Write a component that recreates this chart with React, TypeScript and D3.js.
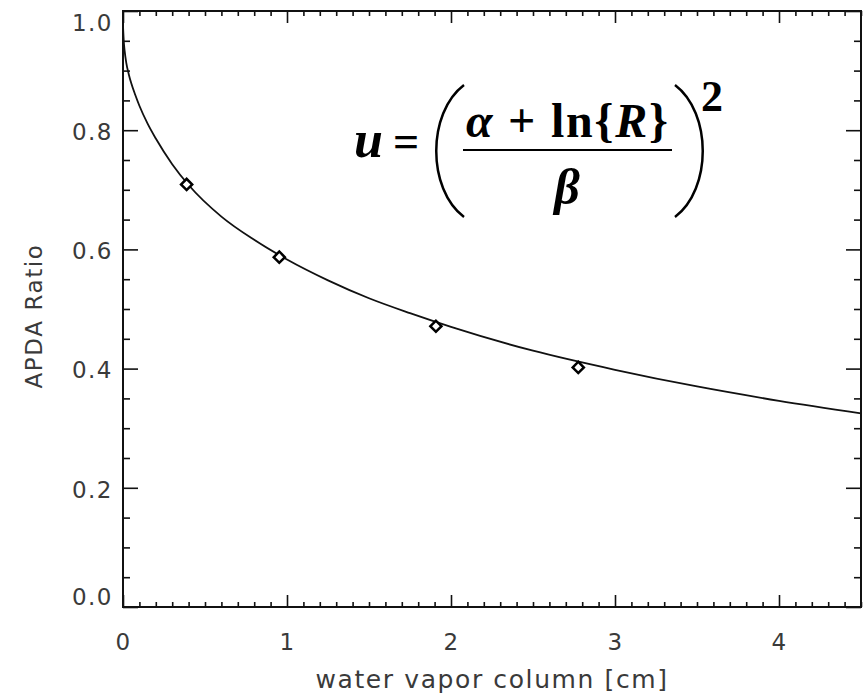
import React from "react";
import { scaleLinear, axisBottom, axisLeft, axisTop, axisRight, select, line, curveMonotoneX, range, symbol, symbolSquare } from "d3";

// measured points (water vapor column vs APDA ratio)
const pointX = [0.388, 0.953, 1.908, 2.776];
const pointY = [0.709, 0.587, 0.471, 0.402];

// fitted curve
const curveX = [0, 0.005, 0.01, 0.02, 0.035, 0.05, 0.075, 0.1, 0.15, 0.2, 0.3, 0.4, 0.6, 0.8, 1.0, 1.25, 1.5, 1.75, 2.0, 2.5, 3.0, 3.5, 4.0, 4.5];
const curveY = [0.975, 0.948, 0.933, 0.913, 0.894, 0.879, 0.859, 0.841, 0.811, 0.786, 0.743, 0.708, 0.655, 0.616, 0.583, 0.548, 0.518, 0.493, 0.47, 0.43, 0.398, 0.37, 0.346, 0.325];

const xTicks = [0, 1, 2, 3, 4];
const yTicks = [0, 0.2, 0.4, 0.6, 0.8, 1.0];

const xTitle = "water vapor column [cm]";
const yTitle = "APDA Ratio";

const W = 867;
const H = 698;
const left = 123;
const right = 861;
const top = 11;
const bottom = 607;

const x = scaleLinear().domain([0, 4.5]).range([left, right]);
const y = scaleLinear().domain([0, 1]).range([bottom, top]);

const xMinor = range(0, 4.501, 0.1).filter((v) => Math.abs(v - Math.round(v)) > 1e-6);
const yMinor = range(0, 1.001, 0.05).filter((v) => Math.abs(v * 5 - Math.round(v * 5)) > 1e-6);

const tickFont = "'DejaVu Sans', sans-serif";

function styleAxis(g) {
  g.select(".domain").remove();
  g.selectAll("line").attr("stroke", "#111").attr("stroke-width", 1.6);
  g.selectAll("text")
    .attr("font-family", tickFont)
    .attr("font-size", 23)
    .attr("fill", "#3a3a3a")
    .attr("letter-spacing", 1.5);
}

export default function App() {
  const bottomRef = (el) => {
    if (!el) return;
    const g = select(el);
    g.selectAll("*").remove();
    g.append("g").call(axisBottom(x).tickValues(xTicks).tickSize(-12).tickPadding(27).tickFormat((d) => `${d}`)).call(styleAxis);
    g.append("g").call(axisBottom(x).tickValues(xMinor).tickSize(-5).tickFormat(() => "")).call(styleAxis);
  };
  const topRef = (el) => {
    if (!el) return;
    const g = select(el);
    g.selectAll("*").remove();
    g.append("g").call(axisTop(x).tickValues(xTicks).tickSize(-12).tickFormat(() => "")).call(styleAxis);
    g.append("g").call(axisTop(x).tickValues(xMinor).tickSize(-5).tickFormat(() => "")).call(styleAxis);
  };
  const leftRef = (el) => {
    if (!el) return;
    const g = select(el);
    g.selectAll("*").remove();
    g.append("g").call(axisLeft(y).tickValues(yTicks).tickSize(-15).tickPadding(10).tickFormat((d) => d.toFixed(1))).call(styleAxis);
    // keep the end labels inside the frame height, as in the original
    g.selectAll("text").attr("y", (d) => Math.min(Math.max(y(d) + 2, top + 12), bottom - 10) - y(d));
    g.append("g").call(axisLeft(y).tickValues(yMinor).tickSize(-7).tickFormat(() => "")).call(styleAxis);
  };
  const rightRef = (el) => {
    if (!el) return;
    const g = select(el);
    g.selectAll("*").remove();
    g.append("g").call(axisRight(y).tickValues(yTicks).tickSize(-15).tickFormat(() => "")).call(styleAxis);
    g.append("g").call(axisRight(y).tickValues(yMinor).tickSize(-7).tickFormat(() => "")).call(styleAxis);
  };

  const curvePath = line()
    .x((d) => x(d[0]))
    .y((d) => y(d[1]))
    .curve(curveMonotoneX)(curveX.map((v, i) => [v, curveY[i]]));

  const diamond = symbol().type(symbolSquare).size(62)();

  return (
    <svg width={W} height={H} style={{ position: "absolute", left: 0, top: 0, background: "#fff" }}>
      <rect x={0} y={0} width={W} height={H} fill="#fff" />
      <path d={curvePath} fill="none" stroke="#111" strokeWidth={1.8} />
      {pointX.map((v, i) => (
        <path
          key={i}
          d={diamond}
          transform={`translate(${x(v)},${y(pointY[i])}) rotate(45)`}
          fill="#fff"
          stroke="#000"
          strokeWidth={2.5}
        />
      ))}

      <g ref={bottomRef} transform={`translate(0,${bottom})`} />
      <g ref={topRef} transform={`translate(0,${top})`} />
      <g ref={leftRef} transform={`translate(${left},0)`} />
      <g ref={rightRef} transform={`translate(${right},0)`} />
      <rect x={left} y={top} width={right - left} height={bottom - top} fill="none" stroke="#111" strokeWidth={2} />

      <text x={(left + right) / 2} y={688} textAnchor="middle" fontFamily={tickFont} fontSize={25} fill="#3a3a3a" letterSpacing={1.6}>
        {xTitle}
      </text>
      <text transform={`translate(42,${316}) rotate(-90)`} textAnchor="middle" fontFamily={tickFont} fontSize={23} fill="#3a3a3a" letterSpacing={1.6}>
        {yTitle}
      </text>

      {/* equation */}
      <g fontFamily="'Liberation Serif', 'Times New Roman', serif" fontWeight="bold" fill="#000">
        <text x={354} y={157} fontSize={52} fontStyle="italic">u</text>
        <text x={393} y={157} fontSize={46}>=</text>
        <path d="M464,85 C427,113 427,189 464,217" fill="none" stroke="#000" strokeWidth={2.5} />
        <text x={466} y={137} fontSize={48} textLength={202} lengthAdjust="spacing">
          <tspan fontStyle="italic">α</tspan>
          <tspan> + ln{"{"}</tspan>
          <tspan fontStyle="italic">R</tspan>
          <tspan>{"}"}</tspan>
        </text>
        <line x1={463} x2={672} y1={150} y2={150} stroke="#000" strokeWidth={2} />
        <text x={567} y={204} fontSize={50} fontStyle="italic" textAnchor="middle">β</text>
        <path d="M675,85 C712,113 712,189 675,217" fill="none" stroke="#000" strokeWidth={2.5} />
        <text x={701} y={111} fontSize={44}>2</text>
      </g>
    </svg>
  );
}
